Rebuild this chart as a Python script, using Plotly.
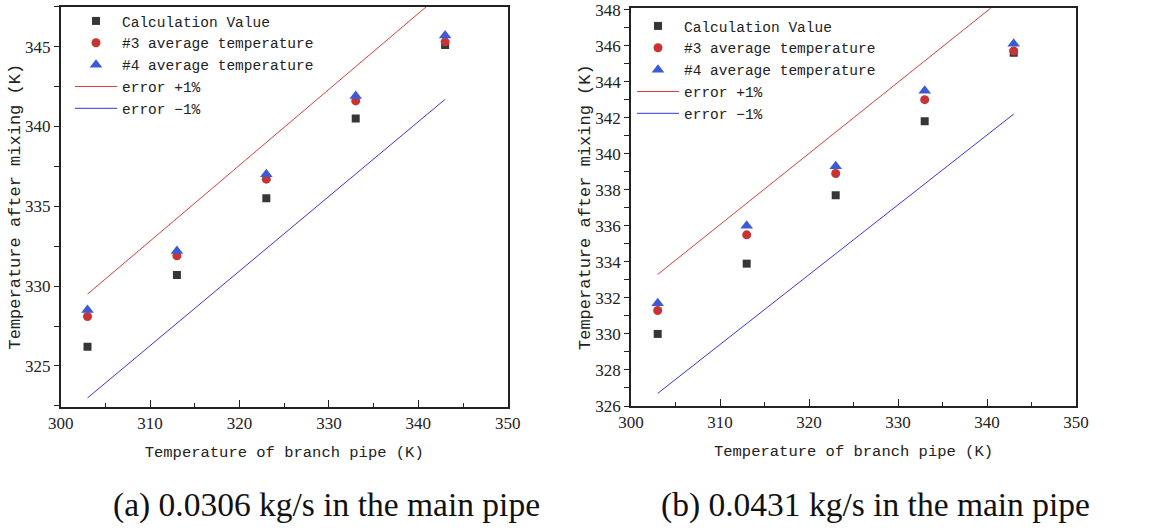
import plotly.graph_objects as go

# ---------------- data ----------------
branch_temp = [303, 313, 323, 333, 343]

calc_a = [326.2, 330.7, 335.5, 340.5, 345.1]
avg3_a = [328.1, 331.9, 336.7, 341.6, 345.3]
avg4_a = [328.5, 332.2, 337.0, 341.9, 345.7]
err_x = [303, 343]
err_plus_a = [329.5, 348.5]
err_minus_a = [323.0, 341.7]

calc_b = [330.0, 333.9, 337.7, 341.8, 345.6]
avg3_b = [331.3, 335.5, 338.9, 343.0, 345.7]
avg4_b = [331.7, 336.0, 339.3, 343.5, 346.1]
err_plus_b = [333.3, 349.1]
err_minus_b = [326.7, 342.2]

names = ["Calculation Value", "#3 average temperature", "#4 average temperature",
         "error +1%", "error \u22121%"]
captions = ["(a) 0.0306 kg/s in the main pipe", "(b) 0.0431 kg/s in the main pipe"]
x_title = "Temperature of branch pipe (K)"
y_title = "Temperature after mixing (K)"

# ---------------- styles ----------------
C_CALC = "#363636"
C_AVG3 = "#c83434"
C_AVG4 = "#3d5ad6"
C_PLUS = "#e03a3a"
C_MINUS = "#3535f0"
MONO = "Liberation Mono"
SERIF = "Liberation Serif"

fig = go.Figure()

panels = [
    ("x", "y", "legend", calc_a, avg3_a, avg4_a, err_plus_a, err_minus_a),
    ("x2", "y2", "legend2", calc_b, avg3_b, avg4_b, err_plus_b, err_minus_b),
]
for xa, ya, lg, calc, a3, a4, ep, em in panels:
    fig.add_trace(go.Scatter(x=err_x, y=ep, mode="lines", name=names[3],
                             line=dict(color=C_PLUS, width=1), xaxis=xa, yaxis=ya,
                             legend=lg, legendrank=4))
    fig.add_trace(go.Scatter(x=err_x, y=em, mode="lines", name=names[4],
                             line=dict(color=C_MINUS, width=1), xaxis=xa, yaxis=ya,
                             legend=lg, legendrank=5))
    fig.add_trace(go.Scatter(x=branch_temp, y=calc, mode="markers", name=names[0],
                             marker=dict(symbol="square", size=8, color=C_CALC),
                             xaxis=xa, yaxis=ya, legend=lg, legendrank=1))
    fig.add_trace(go.Scatter(x=branch_temp, y=a3, mode="markers", name=names[1],
                             marker=dict(symbol="circle", size=9, color=C_AVG3),
                             xaxis=xa, yaxis=ya, legend=lg, legendrank=2))
    fig.add_trace(go.Scatter(x=branch_temp, y=a4, mode="markers", name=names[2],
                             marker=dict(symbol="triangle-up", size=11, color=C_AVG4),
                             xaxis=xa, yaxis=ya, legend=lg, legendrank=3))

W, H = 1150, 530

def xdom(l, r):
    return [l / W, r / W]

def ydom(top, bottom):
    return [(H - bottom) / H, (H - top) / H]

axis_common = dict(showline=True, linecolor="#222", linewidth=1.5, mirror=True,
                   showgrid=False, zeroline=False, automargin=False,
                   tickfont=dict(family=SERIF, size=17, color="#222"),
                   tickcolor="#222", tickwidth=1.2)

xcommon = dict(axis_common, range=[300, 350], dtick=10, tick0=300, ticks="inside", ticklen=7,
               minor=dict(dtick=5, ticks="inside", ticklen=4, tickcolor="#222"),
               title=dict(text=x_title, font=dict(family=MONO, size=15.5, color="#222"),
                          standoff=14))

leg_common = dict(xanchor="left", yanchor="top", bgcolor="rgba(0,0,0,0)",
                  font=dict(family=MONO, size=14.5, color="#222"),
                  tracegroupgap=0, itemwidth=42)

fig.update_layout(
    width=W, height=H, margin=dict(l=0, r=0, t=0, b=0, autoexpand=False),
    paper_bgcolor="white", plot_bgcolor="white",
    xaxis=dict(xcommon, domain=xdom(60.7, 507.7), anchor="y"),
    xaxis2=dict(xcommon, domain=xdom(631, 1076), anchor="y2"),
    yaxis=dict(axis_common, domain=ydom(6.7, 406.7), anchor="x", range=[322.45, 347.5],
               dtick=5, tick0=325, ticks="outside", ticklen=5,
               minor=dict(dtick=2.5, ticks="outside", ticklen=5, tickcolor="#222"),
               title=dict(text=y_title, font=dict(family=MONO, size=17, color="#222"),
                          standoff=0)),
    yaxis2=dict(axis_common, domain=ydom(8.3, 406), anchor="x2", range=[326, 348.07],
                dtick=2, tick0=326, ticks="outside", ticklen=5,
                minor=dict(dtick=1, ticks="outside", ticklen=5, tickcolor="#222"),
                title=dict(text=y_title, font=dict(family=MONO, size=17, color="#222"),
                           standoff=0)),
    legend=dict(leg_common, x=70 / W, y=1 - 5 / H),
    legend2=dict(leg_common, x=632 / W, y=1 - 10 / H),
    showlegend=True,
)

for cap, cx in zip(captions, [326, 875]):
    fig.add_annotation(text=cap, x=cx / W, y=(H - 505) / H, xref="paper", yref="paper",
                       xanchor="center", yanchor="middle", showarrow=False,
                       font=dict(family=SERIF, size=33.5, color="#111"))

fig.write_html("out.html")
